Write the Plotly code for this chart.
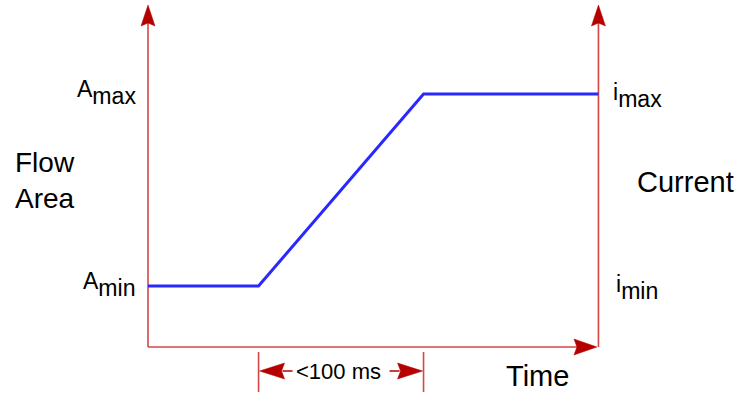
import plotly.graph_objects as go

# ---------------- data ----------------
time_ms = [0, 67, 167, 273]          # time axis (ms) – ramp lasts <100 ms
flow_area = [0, 0, 1, 1]             # normalized flow area: 0 = A_min, 1 = A_max
level_values = [0, 1]                # A_min / A_max (i_min / i_max) levels
area_bases = ["A", "A"]
current_bases = ["i", "i"]
level_subs = ["min", "max"]
duration_label = "<100 ms"
left_title = "Flow<br>Area"
right_title = "Current"
x_title = "Time"

# ---------------- geometry (pixel mapping of the drawing) ----------------
W, H = 741, 394
X0_PX, PX_PER_MS = 148, 1.65         # t = 0 at x px 148
Y0_PX, PX_PER_UNIT = 286, 192        # level 0 at y px 286, level 1 at 94

def dx(px):
    return px / PX_PER_MS

def dy(px):
    return px / PX_PER_UNIT

def xpx(px):
    return (px - X0_PX) / PX_PER_MS

def ypx(py):
    return (Y0_PX - py) / PX_PER_UNIT

T_END = time_ms[-1]
V_BASE = ypx(347)
V_TOP = ypx(5)

AXIS_RED = "rgb(212,70,70)"
HEAD_RED = "rgb(180,0,0)"
BLUE = "rgb(40,40,255)"
FONT = "Liberation Sans, Arial, sans-serif"

fig = go.Figure()

def line(xs, ys, color=AXIS_RED, width=1.6):
    fig.add_trace(go.Scatter(x=xs, y=ys, mode="lines", hoverinfo="skip",
                             line=dict(color=color, width=width)))

def head(tip_x, tip_y, direction, length=21, half=7, notch=3):
    # direction: 'up', 'right', 'left'
    if direction == "up":
        xs = [tip_x, tip_x + dx(half), tip_x, tip_x - dx(half), tip_x]
        ys = [tip_y, tip_y - dy(length), tip_y - dy(length - notch), tip_y - dy(length), tip_y]
    else:
        s = 1 if direction == "right" else -1
        xs = [tip_x, tip_x - s * dx(length), tip_x - s * dx(length - notch), tip_x - s * dx(length), tip_x]
        ys = [tip_y, tip_y + dy(half), tip_y, tip_y - dy(half), tip_y]
    fig.add_trace(go.Scatter(x=xs, y=ys, mode="lines", fill="toself", hoverinfo="skip",
                             fillcolor=HEAD_RED, line=dict(color=HEAD_RED, width=0.5)))

# frame: left axis, right axis, time axis
line([0, 0], [V_BASE, V_TOP - dy(18)])
line([T_END, T_END], [V_BASE, V_TOP - dy(18)])
line([0, T_END - dx(20)], [V_BASE, V_BASE])
head(0, V_TOP, "up")
head(T_END, V_TOP, "up")
head(T_END - dx(1.5), V_BASE, "right", length=23, half=8)

# flow area curve
fig.add_trace(go.Scatter(x=time_ms, y=flow_area, mode="lines", hoverinfo="skip",
                         line=dict(color=BLUE, width=3)))

# duration dimension
t_start, t_stop = time_ms[1], time_ms[2]
y_dim = ypx(371)
line([t_start, t_start], [ypx(352), ypx(392)])
line([t_stop, t_stop], [ypx(352), ypx(392)])
head(t_start + dx(1), y_dim, "left", length=25, half=8, notch=3)
head(t_stop - dx(1), y_dim, "right", length=25, half=8, notch=3)
line([t_start + dx(24), t_start + dx(34)], [y_dim, y_dim], color=HEAD_RED, width=1.5)
line([t_stop - dx(34), t_stop - dx(24)], [y_dim, y_dim], color=HEAD_RED, width=1.5)

ann = []
t_mid = (t_start + t_stop) / 2
ann.append(dict(x=t_mid - dx(3), y=y_dim, text=duration_label, showarrow=False,
                font=dict(size=22, color="black", family=FONT),
                xanchor="center", yanchor="middle"))

def sublabel(base, sub):
    return f"<span style='font-size:23px'>{base}</span><sub>{sub}</sub>"

for v, b, s in zip(level_values, area_bases, level_subs):
    ann.append(dict(x=xpx(138), y=v, text=sublabel(b, s), showarrow=False,
                    font=dict(size=33, color="black", family=FONT),
                    xanchor="right", yanchor="middle", yshift=2))
for v, b, s in zip(level_values, current_bases, level_subs):
    ann.append(dict(x=xpx(637), y=v, text=sublabel(b, s), showarrow=False,
                    font=dict(size=33, color="black", family=FONT),
                    xanchor="center", yanchor="middle", yshift=-1))

ann.append(dict(x=xpx(13), y=ypx(180), text=left_title, showarrow=False, align="left",
                font=dict(size=28, color="black", family=FONT),
                xanchor="left", yanchor="middle"))
ann.append(dict(x=xpx(635), y=ypx(182), text=right_title, showarrow=False,
                font=dict(size=29, color="black", family=FONT),
                xanchor="left", yanchor="middle"))
ann.append(dict(x=xpx(504), y=ypx(376), text=x_title, showarrow=False,
                font=dict(size=29, color="black", family=FONT),
                xanchor="left", yanchor="middle"))

fig.update_layout(
    width=W, height=H,
    margin=dict(l=0, r=0, t=0, b=0),
    paper_bgcolor="white", plot_bgcolor="white",
    showlegend=False,
    xaxis=dict(range=[xpx(0), xpx(W)], visible=False, fixedrange=True),
    yaxis=dict(range=[ypx(H), ypx(0)], visible=False, fixedrange=True),
    annotations=ann,
)

fig.write_html("out.html", config={"displayModeBar": False},
               post_script="document.body.style.margin='0';")
